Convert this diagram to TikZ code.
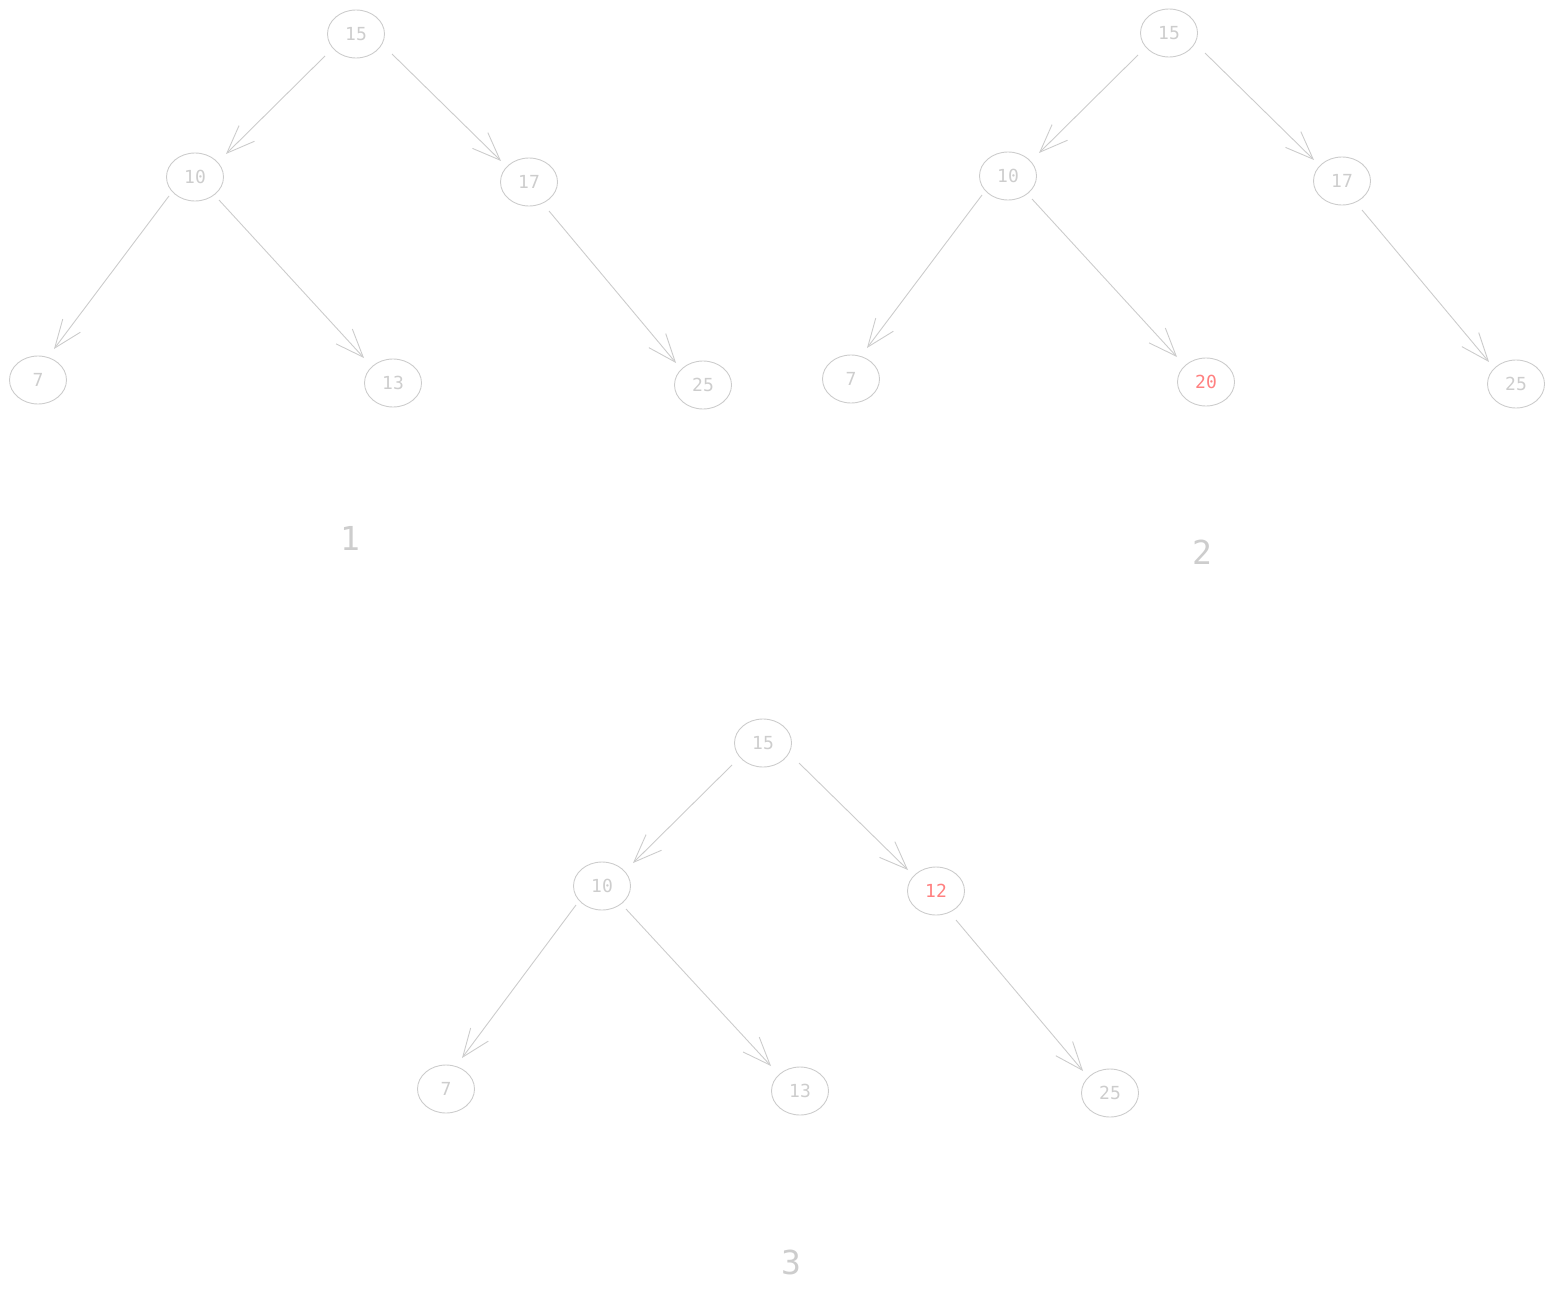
\documentclass[tikz,border=0pt]{standalone}
\usepackage{fontspec}
\newfontfamily\monofont{DejaVu Sans Mono}
\usetikzlibrary{shapes.geometric,arrows.meta,calc}
\definecolor{lg}{HTML}{CCCCCC}
\definecolor{lt}{HTML}{CDCDCD}
\definecolor{lred}{HTML}{FF8080}
\tikzset{
  tn/.style={ellipse,draw=lg,line width=0.9pt,minimum width=57pt,minimum height=48pt,inner sep=0pt,text=lt,font=\monofont\fontsize{18}{18}\selectfont},
  red/.style={text=lred},
  ed/.style={draw=lg,line width=0.9pt,-{Straight Barb[length=28pt,width=22pt,line width=0.9pt]}},
  lab/.style={text=lt,font=\monofont\fontsize{33}{33}\selectfont}
}
\begin{document}
\begin{tikzpicture}[x=1pt,y=-1pt]
\useasboundingbox (0,0) rectangle (1555,1292);
% tree 1
\node[tn] (a15) at (356,34) {15};
\node[tn] (a10) at (195,177) {10};
\node[tn] (a17) at (529,182) {17};
\node[tn] (a7) at (38,380) {7};
\node[tn] (a13) at (393,383) {13};
\node[tn] (a25) at (703,385) {25};
\node[lab] (l1) at (350,538) {1};
\draw[ed] ($(a15)+(-31,22)$) -- ($(a10)+(31,-23)$);
\draw[ed] ($(a15)+(36,20)$) -- ($(a17)+(-28,-21)$);
\draw[ed] ($(a10)+(-26,19)$) -- ($(a7)+(16,-31)$);
\draw[ed] ($(a10)+(24,23)$) -- ($(a13)+(-29,-25)$);
\draw[ed] ($(a17)+(20,29)$) -- ($(a25)+(-27,-22)$);
% tree 2
\node[tn] (b15) at (1169,33) {15};
\node[tn] (b10) at (1008,176) {10};
\node[tn] (b17) at (1342,181) {17};
\node[tn] (b7) at (851,379) {7};
\node[tn,red] (b20) at (1206,382) {20};
\node[tn] (b25) at (1516,384) {25};
\node[lab] (l2) at (1202,552) {2};
\draw[ed] ($(b15)+(-31,22)$) -- ($(b10)+(31,-23)$);
\draw[ed] ($(b15)+(36,20)$) -- ($(b17)+(-28,-21)$);
\draw[ed] ($(b10)+(-26,19)$) -- ($(b7)+(16,-31)$);
\draw[ed] ($(b10)+(24,23)$) -- ($(b20)+(-29,-25)$);
\draw[ed] ($(b17)+(20,29)$) -- ($(b25)+(-27,-22)$);
% tree 3
\node[tn] (c15) at (763,743) {15};
\node[tn] (c10) at (602,886) {10};
\node[tn,red] (c12) at (936,891) {12};
\node[tn] (c7) at (446,1089) {7};
\node[tn] (c13) at (800,1091) {13};
\node[tn] (c25) at (1110,1093) {25};
\node[lab] (l3) at (791,1262) {3};
\draw[ed] ($(c15)+(-31,22)$) -- ($(c10)+(31,-23)$);
\draw[ed] ($(c15)+(36,20)$) -- ($(c12)+(-28,-21)$);
\draw[ed] ($(c10)+(-26,19)$) -- ($(c7)+(16,-31)$);
\draw[ed] ($(c10)+(24,23)$) -- ($(c13)+(-29,-25)$);
\draw[ed] ($(c12)+(20,29)$) -- ($(c25)+(-27,-22)$);
\end{tikzpicture}
\end{document}
